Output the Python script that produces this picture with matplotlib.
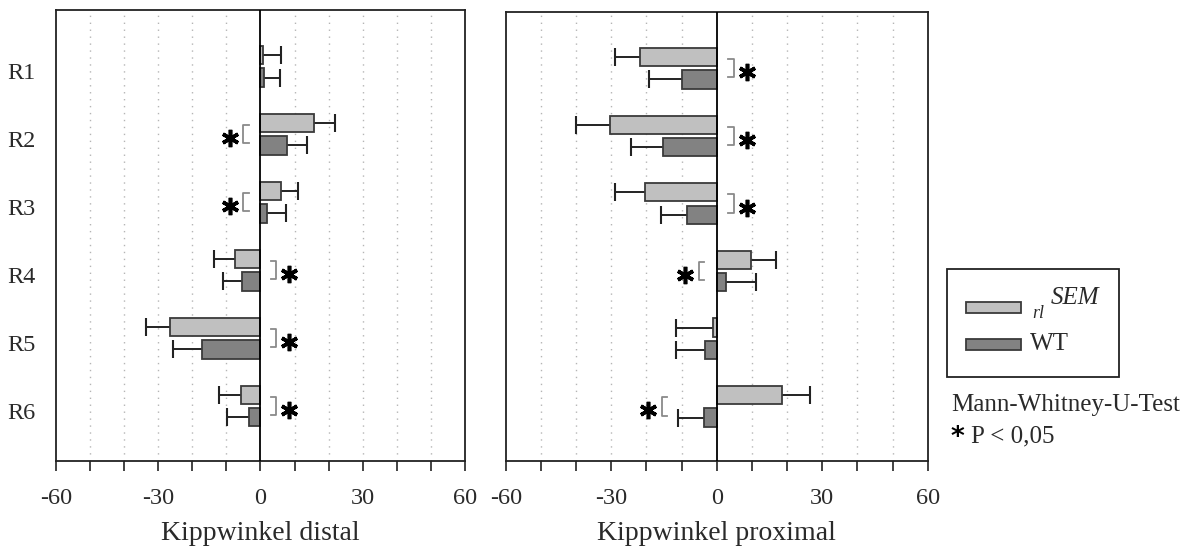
import matplotlib
matplotlib.use("Agg")
import matplotlib.pyplot as plt
from matplotlib.patches import Rectangle
import matplotlib.transforms as mtrans
import numpy as np

plt.rcParams['font.family'] = ['Liberation Serif', 'DejaVu Serif']

categories = ["R1", "R2", "R3", "R4", "R5", "R6"]

# Kippwinkel distal
distal_rl = [0.8, 15.8, 5.9, -7.5, -26.5, -5.6]
distal_rl_err = [5.2, 6.2, 5.1, 6.1, 7.0, 6.5]
distal_wt = [1.0, 7.7, 2.0, -5.5, -17.3, -3.4]
distal_wt_err = [4.7, 6.1, 5.5, 5.4, 8.4, 6.3]

# Kippwinkel proximal
prox_rl = [-21.7, -30.4, -20.3, 9.6, -1.2, 18.5]
prox_rl_err = [7.2, 9.7, 8.6, 7.3, 10.4, 8.0]
prox_wt = [-10.0, -15.3, -8.4, 2.6, -3.3, -3.5]
prox_wt_err = [9.2, 9.0, 7.5, 8.7, 8.4, 7.5]

# significance markers: (category index, side: +1 right of zero / -1 left, inner x)
distal_sig = [(1, -1, -3.5), (2, -1, -3.5), (3, 1, 3.0), (4, 1, 3.0), (5, 1, 3.0)]
prox_sig = [(0, 1, 3.3), (1, 1, 3.3), (2, 1, 3.3), (3, -1, -3.6), (5, -1, -14.2)]

xticks = [-60, -30, 0, 30, 60]
xlabels = ["Kippwinkel distal", "Kippwinkel proximal"]
legend_sub = "rl"
legend_sup = "SEM"
legend_wt = "WT"

c_light = "#c0c0c0"
c_dark = "#828282"
edge = "#3a3a3a"
txt = "#2a2a2a"

fig = plt.figure(figsize=(11.92, 5.49), dpi=100)
ax1 = fig.add_axes([0.047, 0.160, 0.343, 0.822])
ax2 = fig.add_axes([0.4243, 0.160, 0.354, 0.818])

y = np.arange(len(categories))
h = 0.27
off = 0.165


def draw(ax, rl, rl_err, wt, wt_err, sig, xlabel, show_y):
    for vals, errs, col, o in [(rl, rl_err, c_light, -off), (wt, wt_err, c_dark, off)]:
        ax.barh(y + o, vals, height=h, color=col, edgecolor=edge, linewidth=1.3, zorder=3)
        for yi, v, e in zip(y, vals, errs):
            s = 1 if v >= 0 else -1
            end = v + s * e
            ax.plot([v, end], [yi + o, yi + o], color="#222222", lw=1.4, zorder=2,
                    solid_capstyle='butt')
            ax.plot([end], [yi + o], marker='|', markersize=13, mew=1.5,
                    color="#222222", zorder=2)
    for idx, side, xin in sig:
        bw = 1.5
        xout = xin + side * bw
        yt, yb = idx - 0.135, idx + 0.135
        ax.plot([xin, xout, xout, xin], [yt, yt, yb, yb], color="#8a8a8a", lw=1.3, zorder=4)
        ax.plot([xout + side * 3.8], [idx + 0.06], marker=(6, 2, 0), markersize=12.5,
                mew=2.6, color="black", zorder=4)
    ax.axvline(0, color="black", lw=1.3, zorder=4)
    for gx in range(-50, 60, 10):
        if gx != 0:
            ax.axvline(gx, color="#b5b5b5", lw=1.0, ls=(0, (1, 4)), zorder=1)
    ax.set_xlim(-60, 60)
    ax.set_ylim(5.81, -0.83)
    ax.set_xticks(xticks)
    ax.set_xticklabels([str(t) for t in xticks], fontsize=17.5)
    ax.set_xticks(range(-60, 61, 10), minor=True)
    ax.tick_params(axis='x', which='both', direction='out', length=7, width=1.2,
                   pad=12, colors='#222222')
    ax.tick_params(axis='x', labelcolor=txt)
    ax.set_xlabel(xlabel, fontsize=20, labelpad=9, color=txt)
    if show_y:
        ax.set_yticks(y)
        ax.set_yticklabels(categories, fontsize=17.5, color=txt)
        ax.tick_params(axis='y', length=0, pad=15)
        shift = mtrans.ScaledTranslation(0, -3.5 / 72, fig.dpi_scale_trans)
        for lab in ax.get_yticklabels():
            lab.set_transform(lab.get_transform() + shift)
    else:
        ax.set_yticks([])
    for sp in ax.spines.values():
        sp.set_linewidth(1.3)
        sp.set_color('#222222')


draw(ax1, distal_rl, distal_rl_err, distal_wt, distal_wt_err, distal_sig, xlabels[0], True)
draw(ax2, prox_rl, prox_rl_err, prox_wt, prox_wt_err, prox_sig, xlabels[1], False)

# legend box (figure coordinates)
W, H = 1192.0, 549.0
fig.patches.append(Rectangle((946.7 / W, 1 - 377 / H), (1119 - 946.7) / W, (377 - 269) / H,
                             transform=fig.transFigure, fill=False, edgecolor='#222222',
                             lw=1.3))
for i, col in enumerate([c_light, c_dark]):
    yc = 307 + i * 37
    fig.patches.append(Rectangle((966 / W, 1 - (yc + 5.5) / H), 55 / W, 11 / H,
                                 transform=fig.transFigure, facecolor=col,
                                 edgecolor=edge, lw=1.3))
fig.text(1032 / W, 1 - 313 / H, legend_sub, fontsize=13, style='italic',
         va='center', ha='left', color=txt)
fig.text(1051 / W, 1 - 298 / H, legend_sup, fontsize=18, style='italic',
         va='center', ha='left', color=txt)
fig.text(1030 / W, 1 - 344 / H, legend_wt, fontsize=18, va='center', ha='left', color=txt)

fig.text(951 / W, 1 - 405 / H, "Mann-Whitney-U-Test", fontsize=18, va='center',
         ha='left', color=txt)
fig.text(951 / W, 1 - 438 / H, "*", fontsize=19, fontweight='bold',
         family='DejaVu Sans', va='center', ha='left', color='black')
fig.text(971 / W, 1 - 436 / H, "P < 0,05", fontsize=18, va='center', ha='left',
         color=txt)

fig.savefig("out.png", dpi=100)
